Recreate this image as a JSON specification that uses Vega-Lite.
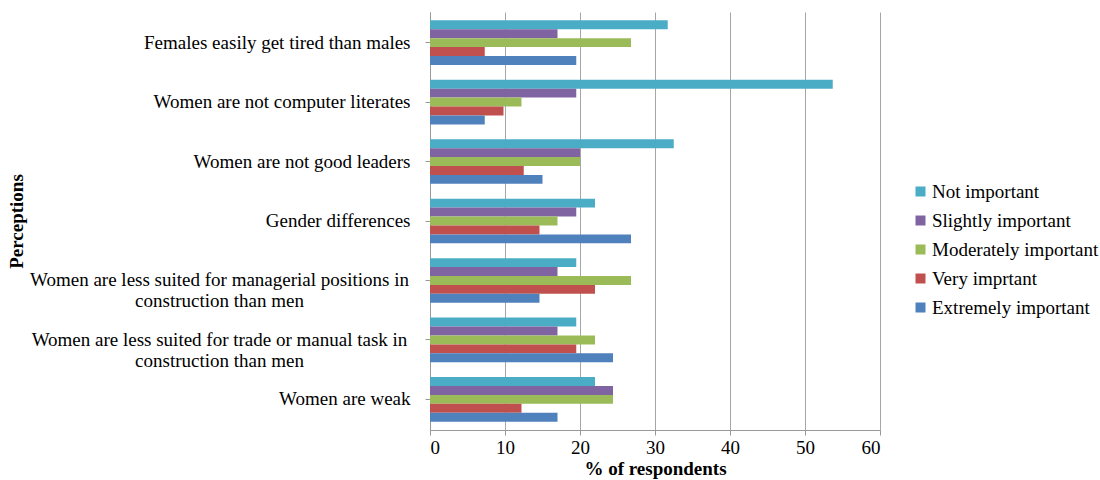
{
  "$schema": "https://vega.github.io/schema/vega-lite/v6.json",
  "autosize": {"type": "none"},
  "width": 450,
  "height": 418,
  "padding": {"left": 430, "top": 12, "right": 220, "bottom": 50},
  "background": "white",
  "config": {
    "view": {"stroke": null},
    "font": "Liberation Serif",
    "axis": {"labelFont": "Liberation Serif", "titleFont": "Liberation Serif", "labelColor": "black", "titleColor": "black", "labelFontSize": 19, "titleFontSize": 19}
  },
  "data": {
    "values": [
      {"perception": "Females easily get tired than males", "level": "Not important", "pct": 31.7},
      {"perception": "Females easily get tired than males", "level": "Slightly important", "pct": 17.0},
      {"perception": "Females easily get tired than males", "level": "Moderately important", "pct": 26.8},
      {"perception": "Females easily get tired than males", "level": "Very imprtant", "pct": 7.3},
      {"perception": "Females easily get tired than males", "level": "Extremely important", "pct": 19.5},
      {"perception": "Women are not computer literates", "level": "Not important", "pct": 53.7},
      {"perception": "Women are not computer literates", "level": "Slightly important", "pct": 19.5},
      {"perception": "Women are not computer literates", "level": "Moderately important", "pct": 12.2},
      {"perception": "Women are not computer literates", "level": "Very imprtant", "pct": 9.8},
      {"perception": "Women are not computer literates", "level": "Extremely important", "pct": 7.3},
      {"perception": "Women are not good leaders", "level": "Not important", "pct": 32.5},
      {"perception": "Women are not good leaders", "level": "Slightly important", "pct": 20.0},
      {"perception": "Women are not good leaders", "level": "Moderately important", "pct": 20.0},
      {"perception": "Women are not good leaders", "level": "Very imprtant", "pct": 12.5},
      {"perception": "Women are not good leaders", "level": "Extremely important", "pct": 15.0},
      {"perception": "Gender differences", "level": "Not important", "pct": 22.0},
      {"perception": "Gender differences", "level": "Slightly important", "pct": 19.5},
      {"perception": "Gender differences", "level": "Moderately important", "pct": 17.0},
      {"perception": "Gender differences", "level": "Very imprtant", "pct": 14.6},
      {"perception": "Gender differences", "level": "Extremely important", "pct": 26.8},
      {"perception": "Women are less suited for managerial positions in construction than men", "level": "Not important", "pct": 19.5},
      {"perception": "Women are less suited for managerial positions in construction than men", "level": "Slightly important", "pct": 17.0},
      {"perception": "Women are less suited for managerial positions in construction than men", "level": "Moderately important", "pct": 26.8},
      {"perception": "Women are less suited for managerial positions in construction than men", "level": "Very imprtant", "pct": 22.0},
      {"perception": "Women are less suited for managerial positions in construction than men", "level": "Extremely important", "pct": 14.6},
      {"perception": "Women are less suited for trade or manual task in construction than men", "level": "Not important", "pct": 19.5},
      {"perception": "Women are less suited for trade or manual task in construction than men", "level": "Slightly important", "pct": 17.0},
      {"perception": "Women are less suited for trade or manual task in construction than men", "level": "Moderately important", "pct": 22.0},
      {"perception": "Women are less suited for trade or manual task in construction than men", "level": "Very imprtant", "pct": 19.5},
      {"perception": "Women are less suited for trade or manual task in construction than men", "level": "Extremely important", "pct": 24.4},
      {"perception": "Women are weak", "level": "Not important", "pct": 22.0},
      {"perception": "Women are weak", "level": "Slightly important", "pct": 24.4},
      {"perception": "Women are weak", "level": "Moderately important", "pct": 24.4},
      {"perception": "Women are weak", "level": "Very imprtant", "pct": 12.2},
      {"perception": "Women are weak", "level": "Extremely important", "pct": 17.0}
    ]
  },
  "mark": {"type": "bar"},
  "encoding": {
    "y": {
      "field": "perception",
      "type": "nominal",
      "sort": null,
      "scale": {"paddingInner": 0.25, "paddingOuter": 0.14},
      "axis": {
        "title": "Perceptions",
        "titleFontWeight": "bold",
        "titlePadding": 204,
        "domainColor": "#999999",
        "tickColor": "#999999",
        "tickSize": 5,
        "labelLimit": 500,
        "labelLineHeight": 21,
        "labelExpr": "indexof(datum.value, ' construction') > 0 ? [slice(datum.value, 0, indexof(datum.value, ' construction')), slice(datum.value, indexof(datum.value, ' construction') + 1)] : datum.value",
        "labelAlign": {"condition": {"test": "indexof(datum.value, ' construction') > 0", "value": "center"}, "value": "right"},
        "labelPadding": {"condition": {"test": "indexof(datum.value, ' construction') > 0", "value": 206}, "value": 15}
      }
    },
    "yOffset": {
      "field": "level",
      "type": "nominal",
      "sort": ["Not important", "Slightly important", "Moderately important", "Very imprtant", "Extremely important"]
    },
    "x": {
      "field": "pct",
      "type": "quantitative",
      "scale": {"domain": [0, 60], "nice": false},
      "axis": {
        "title": "% of respondents",
        "titleFontWeight": "bold",
        "values": [0, 10, 20, 30, 40, 50, 60],
        "grid": true,
        "gridColor": "#a6a6a6",
        "domainColor": "#999999",
        "tickColor": "#999999",
        "tickSize": 5,
        "labelPadding": 3,
        "titlePadding": 2
      }
    },
    "color": {
      "field": "level",
      "type": "nominal",
      "sort": ["Not important", "Slightly important", "Moderately important", "Very imprtant", "Extremely important"],
      "scale": {
        "domain": ["Not important", "Slightly important", "Moderately important", "Very imprtant", "Extremely important"],
        "range": ["#4BACC6", "#8064A2", "#9BBB59", "#C0504D", "#4F81BD"]
      },
      "legend": {
        "title": null,
        "orient": "none",
        "legendX": 481,
        "legendY": 170,
        "symbolType": "square",
        "symbolSize": 100,
        "symbolStrokeWidth": 0,
        "labelFont": "Liberation Serif",
        "labelFontSize": 19,
        "labelColor": "black",
        "labelOffset": 2,
        "rowPadding": 9,
        "labelLimit": 300
      }
    }
  }
}
